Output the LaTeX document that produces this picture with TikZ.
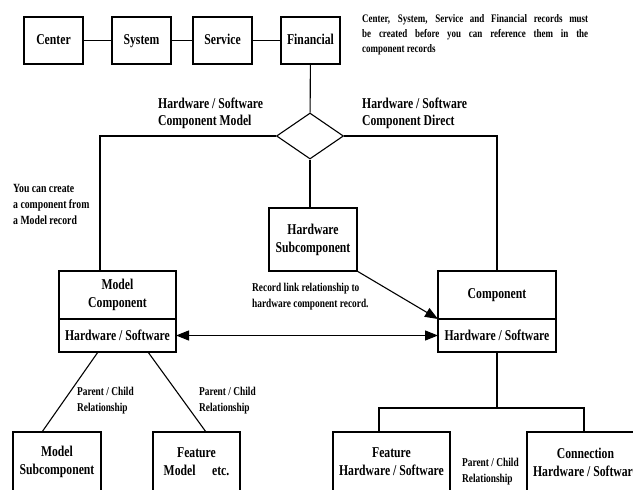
\documentclass[tikz,border=0pt]{standalone}
\usepackage{fontspec}
\setmainfont{Liberation Serif}[FakeStretch=0.78]
\usepackage{tikz}
\usetikzlibrary{positioning, shapes.geometric, arrows.meta}
\tikzstyle{recbox} = [draw, line width=1.5pt, outer sep=0pt, inner sep=2pt, align=center, font=\fontsize{15}{18}\selectfont\bfseries]
\tikzstyle{topbox} = [recbox, minimum width=59pt, minimum height=47pt, text height=10pt, text depth=3pt]
\tikzstyle{bigtext} = [inner sep=0pt, align=left, font=\fontsize{15}{17}\selectfont\bfseries]
\tikzstyle{smalltext} = [inner sep=0pt, align=left, font=\fontsize{12}{15.5}\selectfont\bfseries]
\tikzstyle{link} = [line width=1.1pt]
\tikzstyle{arrow} = [line width=1.1pt, -{Triangle[length=13pt,width=10pt]}]

\begin{document}
\begin{tikzpicture}[x=1pt, y=-1pt]
  \clip (0,0) rectangle (633,490);

  % Records needed first
  \node[topbox] (center) at (53.5,40.5) {Center};
  \node[topbox, right=29pt of center] (system) {System};
  \node[topbox, right=22pt of system] (service) {Service};
  \node[topbox, right=29pt of service] (financial) {Financial};
  \node[smalltext, font=\fontsize{11.5}{15}\selectfont\bfseries, text width=226pt, align=justify, anchor=north west] (prereq) at (362,14)
    {Center, System, Service and Financial records must\linebreak be created before you can reference them in the\linebreak component records};

  % Model or direct
  \node[draw, diamond, line width=1.1pt, aspect=1.45, inner sep=0pt, minimum width=67pt, minimum height=46pt] (choice) at (310,136) {};
  \node[bigtext, anchor=north west] (lblmodel) at (158,98) {Hardware / Software\\Component Model};
  \node[bigtext, anchor=north west] (lbldirect) at (362,98) {Hardware / Software\\Component Direct};
  \node[smalltext, font=\fontsize{12.5}{16}\selectfont\bfseries, anchor=north west] (fromModel) at (13,184) {You can create\\a component from\\a Model record};

  \node[recbox, minimum width=88pt, minimum height=63pt] (hwsub) at (313,239.5) {Hardware\\Subcomponent};
  \node[smalltext, anchor=north west] (reclink) at (252,283) {Record link relationship to\\hardware component record.};

  % Model Component and Component
  \node[recbox, minimum width=117pt, minimum height=48pt] (mcomp) at (117.5,295) {Model\\Component};
  \node[recbox, minimum width=117pt, minimum height=33pt, below=0pt of mcomp] (mcomphw) {Hardware / Software};
  \node[recbox, minimum width=118pt, minimum height=48pt] (comp) at (497,295) {Component};
  \node[recbox, minimum width=118pt, minimum height=33pt, below=0pt of comp] (comphw) {Hardware / Software};

  % Children
  \node[recbox, minimum width=88pt, minimum height=60pt, anchor=north] (msub) at (57,432) {Model\\Subcomponent};
  \node[recbox, minimum width=87pt, minimum height=60pt, anchor=north] (fmodel) at (196.5,432) {Feature\\Model\hspace{1.1em}etc.};
  \node[recbox, minimum width=117pt, minimum height=60pt, anchor=north] (fhw) at (391.5,432) {Feature\\Hardware / Software};
  \node[recbox, minimum width=117pt, minimum height=60pt, anchor=north] (conn) at (585.5,432) {Connection\\Hardware / Software};
  \node[smalltext, anchor=north west] (pc1) at (77,387) {Parent / Child\\Relationship};
  \node[smalltext, anchor=north west] (pc2) at (199,387) {Parent / Child\\Relationship};
  \node[smalltext, anchor=north west] (pc3) at (462,458) {Parent / Child\\Relationship};

  % Connectors
  \draw[link] (center) -- (system);
  \draw[link] (system) -- (service);
  \draw[link] (service) -- (financial);
  \draw[link] (financial) -- (choice);
  \coordinate (mturn) at (100,136);
  \coordinate (cturn) at (497,136);
  \draw[link] (choice.west) -- (mturn) -- (mturn |- mcomp.north);
  \draw[link] (choice.east) -- (cturn) -- (comp.north);
  \draw[link] (choice.south) -- (choice.south |- hwsub.north);
  \draw[arrow] (hwsub.south east) -- (comphw.north west);
  \draw[line width=1.1pt, {Triangle[length=13pt,width=10pt]}-{Triangle[length=13pt,width=10pt]}] (mcomphw) -- (comphw);
  \draw[link] ([xshift=-19.5pt]mcomphw.south) -- ([xshift=-15pt]msub.north);
  \draw[link] ([xshift=30.5pt]mcomphw.south) -- ([xshift=9.5pt]fmodel.north);
  \coordinate (jl) at (379,408);
  \coordinate (jr) at (584,408);
  \draw[link] (comphw.south) -- (comphw.south |- jl);
  \draw[link] (jl |- fhw.north) -- (jl) -- (jr) -- (jr |- conn.north);
\end{tikzpicture}
\end{document}
